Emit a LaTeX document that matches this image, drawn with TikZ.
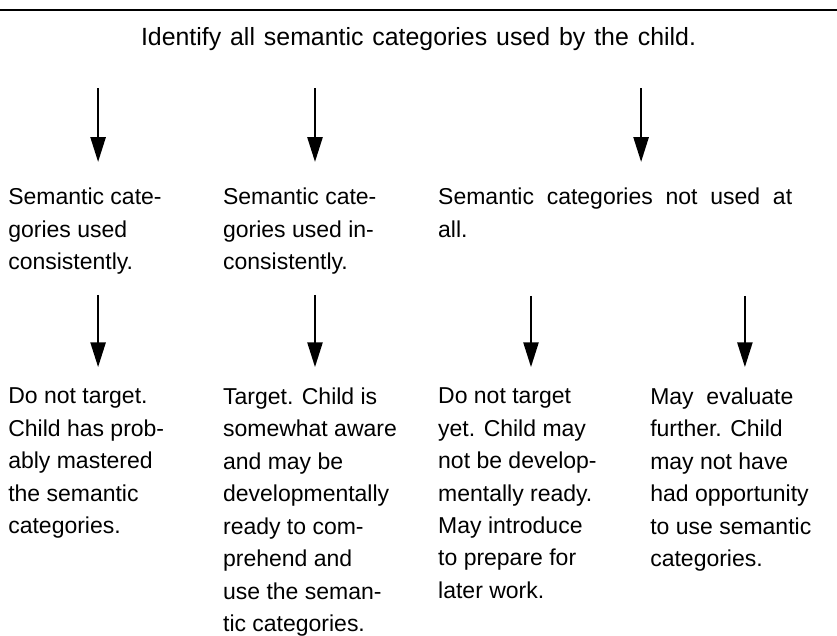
\documentclass[tikz,border=0pt]{standalone}
\usepackage{fontspec}
\setmainfont{Liberation Sans}
\usetikzlibrary{arrows.meta,positioning}

\tikzset{
  txt/.style={font=\fontsize{21.8}{30.8}\selectfont, align=left, inner sep=0pt, anchor=north west},
  flow/.style={-{Triangle[length=0.83cm,width=0.5cm]}, line width=2.4pt}
}

\begin{document}
\begin{tikzpicture}

\useasboundingbox (0,0) rectangle (27.9,-21.2);

% rule on top
\draw[line width=2pt] (0,-0.33) -- (27.9,-0.33);

% question
\node[txt, anchor=base, font=\fontsize{23.6}{30.8}\selectfont] (ident) at (13.95,-1.53)
  {\makebox[18.5cm][s]{Identify all semantic categories used by the child.}};

% how the categories are used
\node[txt] (used) at (0.27,-6.27) {Semantic cate-\\gories used\\consistently.};
\node[txt] (incons) at (7.43,-6.27) {Semantic cate-\\gories used in-\\consistently.};
\node[txt] (unused) at (14.6,-6.27) {\makebox[11.8cm][s]{Semantic categories not used at}\\all.};

% what to do
\node[txt] (nottarget) at (0.27,-12.92) {Do not target.\\Child has prob-\\ably mastered\\the semantic\\categories.};
\node[txt] (target) at (7.43,-12.92) {Target. Child is\\somewhat aware\\and may be\\developmentally\\ready to com-\\prehend and\\use the seman-\\tic categories.};
\node[txt] (notyet) at (14.6,-12.92) {Do not target\\yet. Child may\\not be develop-\\mentally ready.\\May introduce\\to prepare for\\later work.};
\node[txt] (evaluate) at (21.67,-12.92) {May\ \ evaluate\\further. Child\\may not have\\had opportunity\\to use semantic\\categories.};

% arrow columns
\coordinate (x1) at (3.27,0);
\coordinate (x2) at (10.5,0);
\coordinate (x3) at (21.37,0);
\coordinate (x4) at (17.7,0);
\coordinate (x5) at (24.83,0);

\foreach \to/\x in {used/x1, incons/x2, unused/x3}
  \draw[flow, shorten <=1.23cm, shorten >=0.87cm] (ident.south -| \x) -- (\to.north -| \x);

\foreach \from/\to/\x/\gap in {used/nottarget/x1/0.67, incons/target/x2/0.67,
    unused/notyet/x4/1.93, unused/evaluate/x5/1.93}
  \draw[flow, shorten <=\gap cm, shorten >=0.68cm] (\from.south -| \x) -- (\to.north -| \x);

\end{tikzpicture}
\end{document}
